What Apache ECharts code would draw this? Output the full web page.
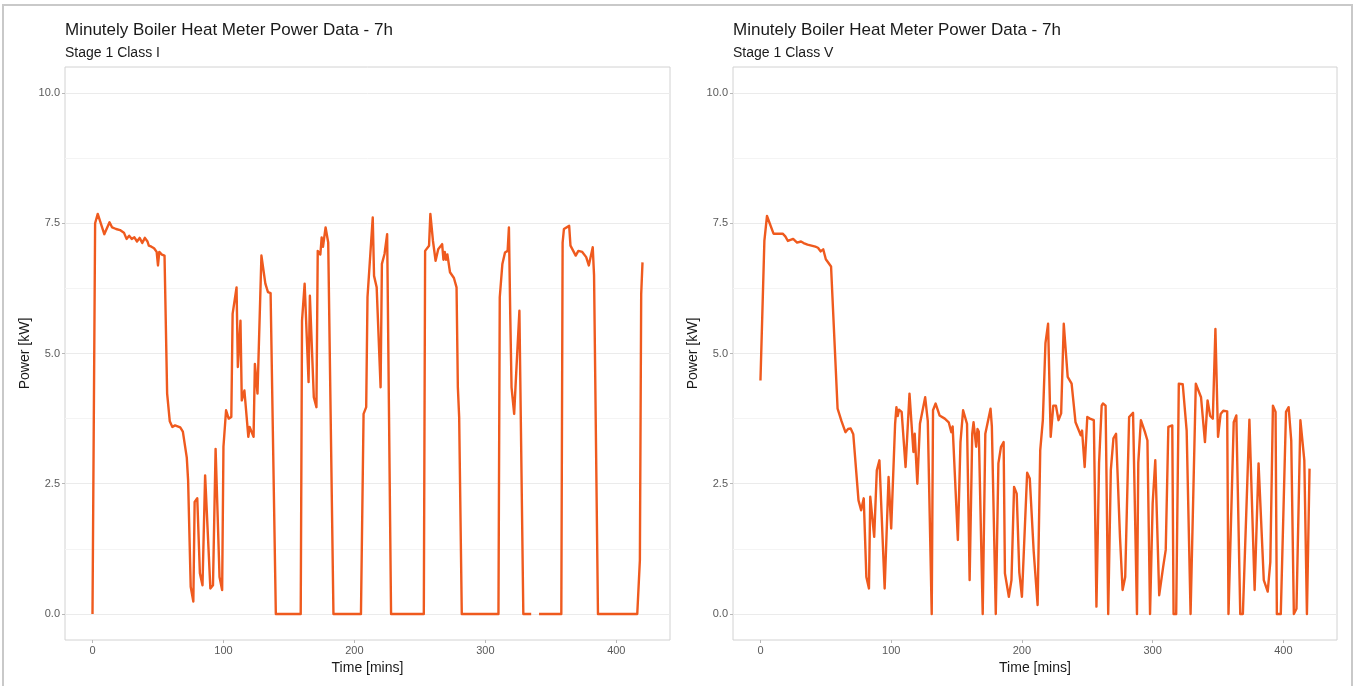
<!DOCTYPE html>
<html>
<head>
<meta charset="utf-8">
<title>Minutely Boiler Heat Meter Power Data - 7h</title>
<script src="https://cdn.jsdelivr.net/npm/echarts@6/dist/echarts.min.js"></script>
<style>
  html, body { margin: 0; padding: 0; background: #ffffff; }
  #chart { width: 1357px; height: 686px; }
</style>
</head>
<body>
<div id="chart"></div>
<script>
// Chart text
const mainTitle = 'Minutely Boiler Heat Meter Power Data - 7h';
const panelSubtitles = ['Stage 1 Class I', 'Stage 1 Class V'];
const xAxisTitle = 'Time [mins]';
const yAxisTitle = 'Power [kW]';

// Tick labels
const xTicks = [0, 100, 200, 300, 400];
const yTicks = [0, 2.5, 5, 7.5, 10];

// Stage 1 Class I: time [mins] and power [kW] (null = missing reading)
const timeI = [0, 2, 4, 9, 13, 15, 18, 21, 24, 26, 28, 30, 32, 34, 36, 38, 40, 42, 43, 45, 47, 49, 50, 51, 53, 55, 56,
  57, 59, 61, 63, 65, 67, 69, 72, 73, 75, 77, 78, 80, 82, 84, 85, 86, 90, 92, 94, 97, 99, 100, 102, 104, 106,
  107, 110, 111, 113, 114, 116, 119, 120, 123, 124, 126, 129, 132, 134, 136, 140, 159, 160, 162, 165, 166, 169,
  171, 172, 174, 175, 176, 178, 180, 184, 205, 207, 209, 210, 214, 215, 217, 220, 221, 223, 225, 228, 253, 254,
  257, 258, 260, 262, 264, 267, 268, 269, 270, 271, 273, 276, 278, 279, 280, 282, 310, 311, 313, 315, 317, 318,
  319, 320, 322, 323, 326, 329, 335, 338, 341, 358, 359, 360, 364, 365, 369, 371, 374, 377, 379, 382, 383, 386,
  416, 418, 419, 420];
const powerI = [0, 7.5, 7.68, 7.29, 7.52, 7.42, 7.39, 7.37, 7.32, 7.2, 7.26, 7.2, 7.23, 7.15, 7.22, 7.12, 7.22, 7.15, 7.07, 7.05, 7.02, 6.95, 6.69, 6.95, 6.9, 6.88, 6.85,
  4.23, 3.7, 3.59, 3.62, 3.6, 3.58, 3.5, 3.0, 2.57, 0.52, 0.24, 2.15, 2.22, 0.78, 0.55, 0.52, 2.66, 0.49, 0.55, 3.17, 0.71, 0.46, 3.21, 3.91, 3.75, 3.78,
  5.76, 6.27, 4.74, 5.63, 4.1, 4.29, 3.4, 3.59, 3.4, 4.8, 4.23, 6.88, 6.34, 6.18, 6.16, 0, 0, 5.63, 6.34, 4.45, 6.11, 4.16,
  3.97, 6.97, 6.9, 7.23, 7.05, 7.42, 7.13, 0, 0, 3.84, 3.97, 6.08, 7.61, 6.49, 6.27, 4.35, 6.72, 6.91, 7.29, 0, 0, 6.97,
  7.07, 7.68, 7.16, 6.78, 7.0, 7.1, 6.8, 6.95, 6.8, 6.9, 6.56, 6.45, 6.27, 4.35, 3.78, 0, 0, 6.08, 6.72, 6.94, 6.97, 7.42,
  5.76, 4.35, 3.84, 4.35, 5.82, 0, 0, null, 0, 0, 7.13, 7.39, 7.45, 7.07, 6.88, 6.97, 6.95, 6.85, 6.69, 7.04, 6.5, 0,
  0, 1.03, 6.14, 6.75];

// Stage 1 Class V: time [mins] and power [kW]
const timeV = [0, 3, 5, 10, 17, 19, 21, 23, 25, 28, 31, 33, 36, 39, 42, 44, 46, 48, 50, 54, 59, 62, 65, 67, 69, 71,
  75, 77, 79, 81, 83, 84, 87, 89, 91, 95, 98, 100, 103, 104, 105, 106, 108, 111, 114, 117, 118, 120, 122, 126,
  128, 131, 132, 134, 137, 141, 144, 146, 147, 151, 153, 155, 158, 160, 162, 163, 165, 166, 167, 170, 172, 176,
  177, 180, 182, 184, 186, 187, 190, 192, 194, 196, 198, 200, 204, 206, 209, 212, 214, 216, 218, 220, 222, 224,
  226, 228, 230, 232, 235, 236, 238, 241, 242, 245, 246, 248, 250, 252, 255, 257, 259, 261, 262, 264, 266, 268,
  270, 272, 275, 277, 279, 282, 285, 288, 289, 291, 294, 296, 298, 300, 302, 305, 308, 310, 312, 315, 316, 318,
  320, 323, 326, 329, 333, 337, 340, 342, 344, 346, 348, 350, 352, 354, 357, 358, 362, 364, 367, 369, 374, 378,
  381, 385, 388, 390, 392, 394, 395, 398, 402, 404, 406, 408, 410, 413, 416, 418, 420];
const powerV = [4.48, 7.16, 7.64, 7.3, 7.3, 7.25, 7.16, 7.18, 7.2, 7.13, 7.15, 7.12, 7.09, 7.07, 7.05, 7.03, 6.96, 7.0, 6.81, 6.67, 3.94, 3.7, 3.49, 3.55, 3.56, 3.45,
  2.18, 1.99, 2.22, 0.71, 0.49, 2.25, 1.48, 2.76, 2.95, 0.49, 2.63, 1.64, 3.65, 3.97, 3.8, 3.92, 3.88, 2.82, 4.23, 3.11, 3.46, 2.5, 3.65, 4.16,
  3.7, 0, 3.91, 4.04, 3.81, 3.75, 3.68, 3.49, 3.6, 1.42, 3.3, 3.91, 3.65, 0.65, 3.46, 3.68, 3.21, 3.55, 3.5, 0, 3.46, 3.94,
  3.6, 0, 2.89, 3.21, 3.3, 0.78, 0.33, 0.65, 2.44, 2.31, 0.8, 0.33, 2.71, 2.6, 1.2, 0.17, 3.14, 3.72, 5.2, 5.57, 3.4, 4.0,
  4.0, 3.72, 3.85, 5.57, 4.55, 4.58, 4.42, 3.68, 3.68, 3.43, 3.52, 2.82, 3.78, 3.75, 3.72, 0.14, 2.89, 4.0, 4.04, 4.0, 0, 2.76,
  3.37, 3.46, 1.48, 0.46, 0.71, 3.78, 3.86, 0, 2.9, 3.72, 3.5, 3.33, 0, 2.12, 2.95, 0.36, 0.9, 1.23, 3.59, 3.62, 0, 0,
  4.42, 4.41, 3.52, 0, 4.42, 4.16, 3.3, 4.1, 3.8, 3.75, 5.47, 3.4, 3.84, 3.9, 3.89, 0, 3.68, 3.81, 0, 0, 3.73, 0.46,
  2.89, 0.65, 0.43, 1.0, 4.0, 3.88, 0, 0, 3.88, 3.97, 3.33, 0, 0.1, 3.72, 2.95, 0, 2.79];

const FONT = '"Liberation Sans", Arial, sans-serif';
const LINE_COLOR = '#ef5a1e';

const pairs = (ts, vs) => ts.map((t, i) => [t, vs[i]]);

// Panel rectangles (left / right facet)
const grids = [
  { left: 65, right: 687, top: 67, bottom: 46 },
  { left: 733, right: 20, top: 67, bottom: 46 }
];

function makeXAxis(idx) {
  return {
    type: 'value', gridIndex: idx, position: 'bottom',
    min: -21, max: 441, minInterval: 100, maxInterval: 100,
    name: xAxisTitle, nameLocation: 'middle', nameGap: 19,
    nameTextStyle: { color: '#1a1a1a', fontSize: 14, fontFamily: FONT },
    axisLine: { show: false, onZero: false },
    axisTick: { show: true, length: 3, customValues: xTicks, lineStyle: { color: '#b8b8b8' } },
    axisLabel: { customValues: xTicks, color: '#5a5a5a', fontSize: 11, margin: 5, fontFamily: FONT },
    splitLine: { show: false }
  };
}

function makeYAxis(idx) {
  return {
    type: 'value', gridIndex: idx, position: 'left',
    min: -0.5, max: 10.5, minInterval: 2.5, maxInterval: 2.5,
    name: yAxisTitle, nameLocation: 'middle', nameGap: 33,
    nameTextStyle: { color: '#1a1a1a', fontSize: 14, fontFamily: FONT },
    axisLine: { show: false, onZero: false },
    axisTick: { show: true, length: 3, customValues: yTicks, lineStyle: { color: '#b8b8b8' } },
    axisLabel: {
      customValues: yTicks, color: '#5a5a5a', fontSize: 11, margin: 5, fontFamily: FONT,
      formatter: v => v.toFixed(1)
    },
    splitLine: { show: true, lineStyle: { color: '#ebebeb', width: 1 } },
    minorTick: { show: false, splitNumber: 2 },
    minorSplitLine: { show: true, lineStyle: { color: '#f4f4f4', width: 1 } }
  };
}

const chart = echarts.init(document.getElementById('chart'), null, { renderer: 'canvas' });

chart.setOption({
  animation: false,
  backgroundColor: '#ffffff',
  textStyle: { fontFamily: FONT },
  title: panelSubtitles.map((sub, i) => ({
    left: grids[i].left - 5,
    top: 17,
    text: mainTitle,
    subtext: sub,
    itemGap: 7,
    textStyle: { fontSize: 17, fontWeight: 'normal', color: '#1a1a1a', fontFamily: FONT },
    subtextStyle: { fontSize: 14, color: '#1a1a1a', fontFamily: FONT }
  })),
  graphic: [{
    type: 'rect',
    shape: { x: 3, y: 5, width: 1349, height: 690 },
    style: { fill: 'none', stroke: '#c9c9c9', lineWidth: 2 },
    silent: true
  }],
  grid: grids.map(g => Object.assign({
    show: true, borderColor: '#d2d2d2', borderWidth: 1,
    backgroundColor: '#ffffff', containLabel: false, outerBoundsMode: 'none'
  }, g)),
  xAxis: [makeXAxis(0), makeXAxis(1)],
  yAxis: [makeYAxis(0), makeYAxis(1)],
  series: [
    {
      name: panelSubtitles[0], type: 'line', xAxisIndex: 0, yAxisIndex: 0,
      data: pairs(timeI, powerI), showSymbol: false, symbol: 'none',
      connectNulls: false,
      lineStyle: { color: LINE_COLOR, width: 2.4, join: 'round' }
    },
    {
      name: panelSubtitles[1], type: 'line', xAxisIndex: 1, yAxisIndex: 1,
      data: pairs(timeV, powerV), showSymbol: false, symbol: 'none',
      lineStyle: { color: LINE_COLOR, width: 2.4, join: 'round' }
    }
  ]
});
</script>
</body>
</html>
